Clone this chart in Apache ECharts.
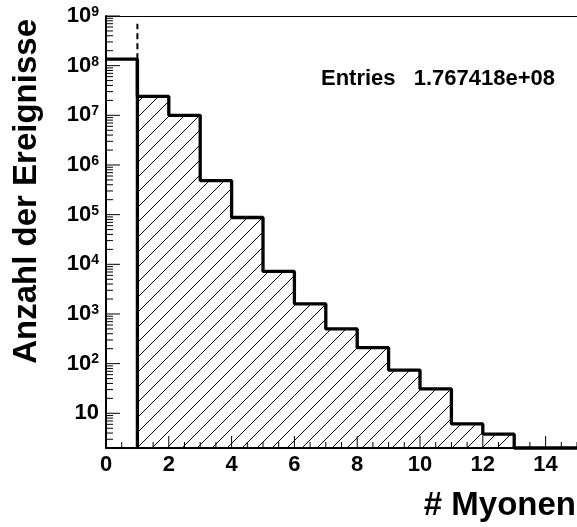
<!DOCTYPE html>
<html>
<head>
<meta charset="utf-8">
<script src="https://cdn.jsdelivr.net/npm/echarts@6/dist/echarts.min.js"></script>
<style>
html, body { margin: 0; padding: 0; background: #fff; }
#chart { width: 577px; height: 527px; }
</style>
</head>
<body>
<div id="chart"></div>
<script>
// number of muons per event: bin i covers [i, i+1)
var bins = [0, 1, 2, 3, 4, 5, 6, 7, 8, 9, 10, 11, 12, 13, 14];
var counts = [1.35e8, 2.4e7, 1.0e7, 4.85e5, 8.75e4, 7.2e3, 1.6e3, 500, 210, 74, 31, 6.1, 3.8, 0, 0];
var xMajorLabels = [0, 2, 4, 6, 8, 10, 12, 14];
var yDecades = [1, 2, 3, 4, 5, 6, 7, 8, 9];
var entries = '1.767418e+08';

var xMin = 0, xMax = 15;
var yMin = 2, yMax = 1e9;
var hatchFrom = 1;      // bin 0 is drawn without fill
var cutX = 1, cutTop = 7e8;

var FONT = '"Liberation Sans", Arial, Helvetica, sans-serif';

function clampY(v) {
    return Math.max(v, yMin);
}

// hatch pattern (ROOT 3004 style)
var hatch = document.createElement('canvas');
hatch.width = 15;
hatch.height = 15;
var hc = hatch.getContext('2d');
hc.strokeStyle = '#000';
hc.lineWidth = 1;
hc.beginPath();
hc.moveTo(-1, 16); hc.lineTo(16, -1);
hc.moveTo(-1, 1); hc.lineTo(1, -1);
hc.moveTo(14, 16); hc.lineTo(16, 14);
hc.stroke();

// outline of the histogram
var outline = bins.map(function(b, i) { return [b, clampY(counts[i])]; });
outline.push([xMax, clampY(counts[counts.length - 1])]);

var hatched = [];
bins.forEach(function(b, i) {
    if (b >= hatchFrom && counts[i] > 0) hatched.push([b, counts[i]]);
});

// ticks: x every 0.5 (major every 2), y at 1..9 x 10^n (major at decades)
var xTicks = [];
for (var i = 0; i <= xMax * 2; i++) {
    var xv = i / 2;
    xTicks.push([xv, yMin, xMajorLabels.indexOf(xv) >= 0 ? 1 : 0]);
}
var yTicks = [];
for (var n = 0; n < 9; n++) {
    for (var k = 1; k <= 9; k++) {
        var t = k * Math.pow(10, n);
        if (t >= yMin && t <= yMax) yTicks.push([xMin, t, k === 1 ? 1 : 0]);
    }
}
yTicks.push([xMin, yMax, 1]);

var myChart = echarts.init(document.getElementById('chart'));

var option = {
    animation: false,
    backgroundColor: '#fff',
    grid: {
        left: 106, right: 0, top: 16, bottom: 79,
        containLabel: false,
        outerBoundsMode: 'none'
    },
    xAxis: [{
        type: 'value', min: xMin, max: xMax, interval: 2,
        axisLine: {show: true, onZero: false, lineStyle: {color: '#000', width: 2}},
        axisTick: {show: false},
        splitLine: {show: false},
        axisLabel: {
            margin: 6, showMaxLabel: false,
            color: '#000', fontSize: 22, fontWeight: 'bold', fontFamily: FONT,
            formatter: function(v) {
                return xMajorLabels.indexOf(v) >= 0 ? String(v) : '';
            }
        }
    }, {
        // top frame
        type: 'value', min: xMin, max: xMax, position: 'top',
        axisLine: {show: true, lineStyle: {color: '#000', width: 1}},
        axisTick: {show: false},
        axisLabel: {show: false},
        splitLine: {show: false}
    }],
    yAxis: {
        type: 'log', logBase: 10, min: yMin, max: yMax, splitNumber: 10,
        axisLine: {show: true, lineStyle: {color: '#000', width: 2}},
        axisTick: {show: false},
        minorTick: {show: false},
        splitLine: {show: false},
        axisLabel: {
            margin: 7, showMinLabel: false,
            formatter: function(v) {
                var e = Math.round(Math.log10(v));
                if (yDecades.indexOf(e) < 0) return '';
                return e === 1 ? '{b|10}' : '{b|10}{s|' + e + '}';
            },
            rich: {
                b: {fontSize: 22, fontWeight: 'bold', fontFamily: FONT, color: '#000', lineHeight: 22},
                s: {fontSize: 14, fontWeight: 'bold', fontFamily: FONT, color: '#000', verticalAlign: 'top', lineHeight: 14}
            }
        }
    },
    series: [{
        // x axis ticks
        type: 'custom',
        coordinateSystem: 'cartesian2d',
        data: xTicks,
        clip: false,
        z: 4,
        renderItem: function(params, api) {
            var p = api.coord([api.value(0), api.value(1)]);
            var len = api.value(2) ? 12 : 6;
            return {
                type: 'rect',
                shape: {x: p[0] - 0.5, y: p[1] - len, width: 1, height: len},
                style: {fill: '#000'}
            };
        }
    }, {
        // y axis ticks
        type: 'custom',
        coordinateSystem: 'cartesian2d',
        data: yTicks,
        clip: false,
        z: 4,
        renderItem: function(params, api) {
            var p = api.coord([api.value(0), api.value(1)]);
            var len = api.value(2) ? 14 : 7;
            return {
                type: 'rect',
                shape: {x: p[0], y: p[1] - 0.5, width: len, height: 1},
                style: {fill: '#000'}
            };
        }
    }, {
        type: 'custom',
        coordinateSystem: 'cartesian2d',
        data: hatched,
        clip: true,
        z: 1,
        renderItem: function(params, api) {
            var x0 = api.value(0);
            var p1 = api.coord([x0, api.value(1)]);
            var p2 = api.coord([x0 + 1, yMin]);
            return {
                type: 'rect',
                shape: {x: p1[0], y: p1[1], width: p2[0] - p1[0], height: p2[1] - p1[1]},
                style: {fill: {image: hatch, repeat: 'repeat'}, stroke: null}
            };
        }
    }, {
        type: 'line',
        data: outline,
        step: 'end',
        symbol: 'none',
        clip: false,
        z: 3,
        lineStyle: {color: '#000', width: 3.3}
    }, {
        // left edge of the filled part and the dashed cut marker above it
        type: 'custom',
        coordinateSystem: 'cartesian2d',
        data: [[cutX, counts[0], cutTop]],
        clip: false,
        z: 3,
        renderItem: function(params, api) {
            var x = api.value(0);
            var pBot = api.coord([x, yMin]);
            var pMid = api.coord([x, api.value(1)]);
            var pTop = api.coord([x, api.value(2)]);
            return {
                type: 'group',
                children: [{
                    type: 'rect',
                    shape: {x: pBot[0] - 1.65, y: pMid[1], width: 3.3, height: pBot[1] - pMid[1]},
                    style: {fill: '#000'}
                }, {
                    type: 'line',
                    shape: {x1: pMid[0], y1: pMid[1], x2: pTop[0], y2: pTop[1]},
                    style: {stroke: '#000', lineWidth: 2, lineDash: [6, 4]}
                }]
            };
        }
    }],
    graphic: [{
        type: 'text', x: 27, y: 19, rotation: Math.PI / 2,
        style: {text: 'Anzahl der Ereignisse', font: 'bold 33px ' + FONT, fill: '#000', align: 'right', verticalAlign: 'middle'}
    }, {
        type: 'text', x: 576, y: 506,
        style: {text: '# Myonen', font: 'bold 33px ' + FONT, fill: '#000', align: 'right', verticalAlign: 'middle'}
    }, {
        type: 'text', x: 321, y: 79,
        style: {text: 'Entries', font: 'bold 22px ' + FONT, fill: '#000', align: 'left', verticalAlign: 'middle'}
    }, {
        type: 'text', x: 555, y: 79,
        style: {text: entries, font: 'bold 22px ' + FONT, fill: '#000', align: 'right', verticalAlign: 'middle'}
    }]
};

myChart.setOption(option, true);
</script>
</body>
</html>
